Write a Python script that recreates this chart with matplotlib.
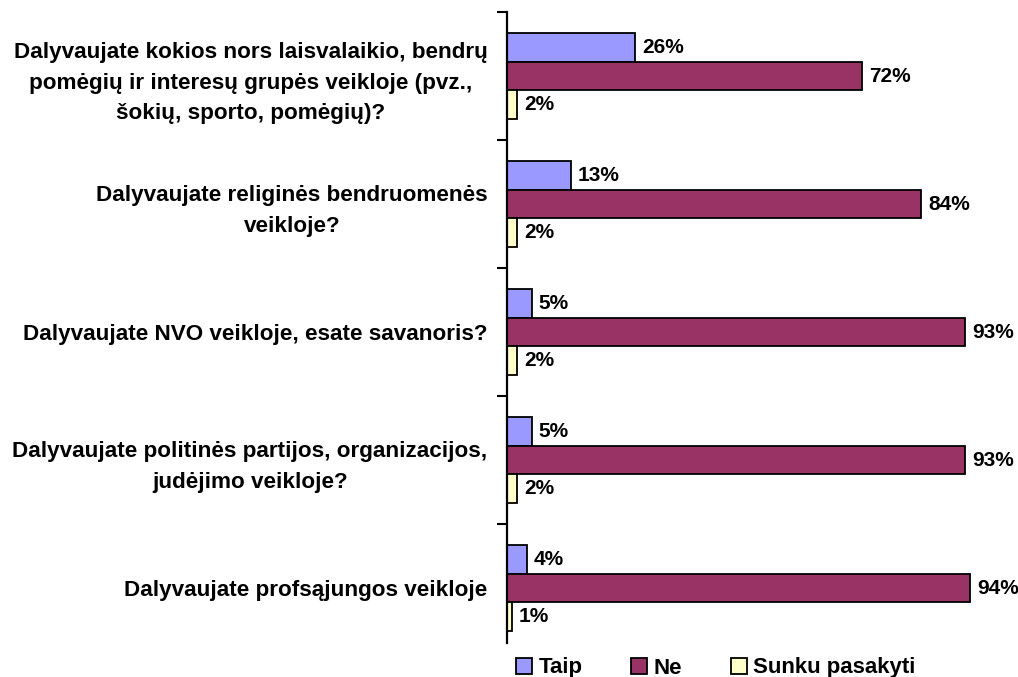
import numpy as np
import matplotlib
matplotlib.use("Agg")
import matplotlib.pyplot as plt

plt.rcParams['font.family'] = ['Liberation Sans', 'DejaVu Sans']
plt.rcParams['font.weight'] = 'bold'

# data
questions = [
    "Dalyvaujate kokios nors laisvalaikio, bendrų\npomėgių ir interesų grupės veikloje (pvz.,\nšokių, sporto, pomėgių)?",
    "Dalyvaujate religinės bendruomenės\nveikloje?",
    "Dalyvaujate NVO veikloje, esate savanoris?",
    "Dalyvaujate politinės partijos, organizacijos,\njudėjimo veikloje?",
    "Dalyvaujate profsąjungos veikloje",
]
series_names = ["Taip", "Ne", "Sunku pasakyti"]
taip = [26, 13, 5, 5, 4]
ne = [72, 84, 93, 93, 94]
sunku = [2, 2, 2, 2, 1]

colors = ["#9999FF", "#993366", "#FFFFCC"]

fig = plt.figure(figsize=(10.18, 6.77), dpi=100)
ax = fig.add_axes([507 / 1018, 1 - 652 / 677, 493 / 1018, 640 / 677])

y = np.arange(len(questions))
h = 0.222
for i, (vals, name) in enumerate(zip([taip, ne, sunku], series_names)):
    bars = ax.barh(y + (i - 1) * h, vals, height=h, color=colors[i],
                   edgecolor="black", linewidth=1.3, label=name)
    ax.bar_label(bars, labels=[f"{v}%" for v in vals], padding=5,
                 fontsize=15, fontweight="bold")

ax.set_xlim(0, 100)
ax.set_ylim(len(questions) - 0.5, -0.5)
ax.set_xticks([])
ax.set_yticks(y)
ax.set_yticklabels(questions, fontsize=16.2, fontweight="bold",
                   multialignment="center", linespacing=1.57)
ax.tick_params(axis="y", which="major", length=0, pad=14)
# group separators, the bottom one is not drawn in the original
ax.set_yticks(np.arange(len(questions)) - 0.5, minor=True)
ax.tick_params(axis="y", which="minor", length=7, width=1.5, direction="out")
for s in ["top", "right", "bottom"]:
    ax.spines[s].set_visible(False)
ax.spines["left"].set_linewidth(1.6)
ax.spines["left"].set_bounds(len(questions) - 0.57, -0.5)

fig.legend(loc="center", bbox_to_anchor=(716 / 1018, 1 - 668 / 677), ncol=3,
           frameon=False, fontsize=16, handlelength=0.7, handleheight=0.7,
           handletextpad=0.3, columnspacing=2.2, borderaxespad=0)

fig.savefig("out.png", dpi=100)
